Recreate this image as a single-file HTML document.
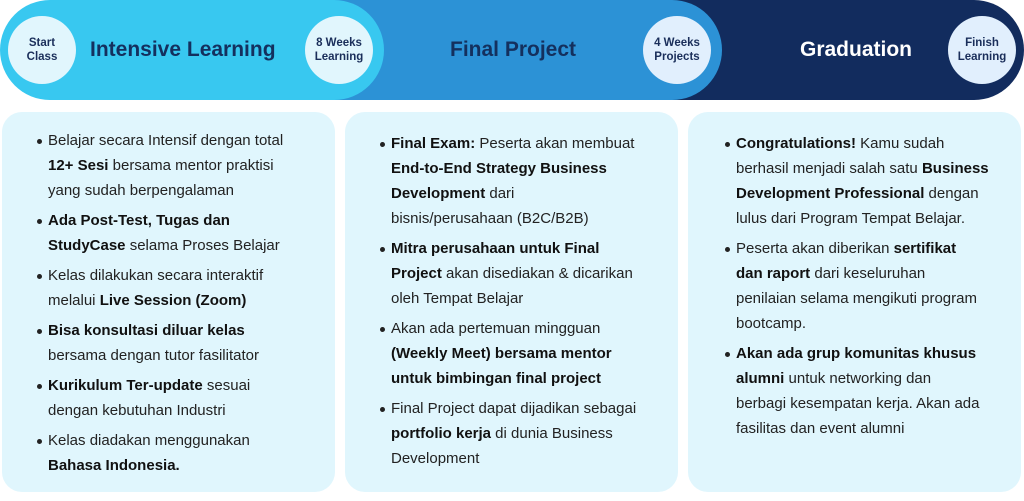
<!DOCTYPE html>
<html><head><meta charset="utf-8"><style>
*{margin:0;padding:0;box-sizing:border-box}
body{width:1024px;height:501px;background:#fff;position:relative;overflow:hidden;font-family:"Liberation Sans",sans-serif}
.seg{position:absolute;top:0;height:100px;border-radius:0 50px 50px 0}
.c{position:absolute;top:16px;width:68px;height:68px;border-radius:50%;display:flex;align-items:center;justify-content:center;text-align:center;font-size:11.5px;font-weight:bold;color:#1a2e5a;line-height:14px}
.t{position:absolute;top:0;height:100px;line-height:100px;font-size:21px;font-weight:bold;color:#14305e;white-space:nowrap}
.card{position:absolute;top:112px;height:380px;background:#e0f6fd;border-radius:20px}
ul{position:absolute;list-style:none;font-size:15px;line-height:25px;color:#222;white-space:nowrap}
li{position:relative;margin-bottom:5px}
li:before{content:"";position:absolute;left:-11px;top:11px;width:5px;height:5px;border-radius:50%;background:#222}
b{color:#111}
</style></head><body>
<div class="seg" style="left:660px;width:364px;background:#122c5e"></div>
<div class="seg" style="left:320px;width:402px;background:#2c92d6"></div>
<div class="seg" style="left:0;width:384px;background:#38c8f0;border-radius:50px"></div>
<div class="c" style="left:8px;background:#e1f6fd">Start<br>Class</div>
<div class="t" style="left:90px">Intensive Learning</div>
<div class="c" style="left:305px;background:#e1f6fd">8 Weeks<br>Learning</div>
<div class="t" style="left:450px">Final Project</div>
<div class="c" style="left:643px;background:#e1effd">4 Weeks<br>Projects</div>
<div class="t" style="left:800px;color:#fff">Graduation</div>
<div class="c" style="left:948px;background:#e1effd">Finish<br>Learning</div>

<div class="card" style="left:2px;width:333px"></div>
<div class="card" style="left:345px;width:333px"></div>
<div class="card" style="left:688px;width:333px"></div>

<ul style="left:48px;top:128px">
<li>Belajar secara Intensif dengan total<br><b>12+ Sesi</b> bersama mentor praktisi<br>yang sudah berpengalaman</li>
<li><b>Ada Post-Test, Tugas dan<br>StudyCase</b> selama Proses Belajar</li>
<li>Kelas dilakukan secara interaktif<br>melalui <b>Live Session (Zoom)</b></li>
<li><b>Bisa konsultasi diluar kelas</b><br>bersama dengan tutor fasilitator</li>
<li><b>Kurikulum Ter-update</b> sesuai<br>dengan kebutuhan Industri</li>
<li>Kelas diadakan menggunakan<br><b>Bahasa Indonesia.</b></li>
</ul>
<ul style="left:391px;top:131px">
<li><b>Final Exam:</b> Peserta akan membuat<br><b>End-to-End Strategy Business<br>Development</b> dari<br>bisnis/perusahaan (B2C/B2B)</li>
<li><b>Mitra perusahaan untuk Final<br>Project</b> akan disediakan &amp; dicarikan<br>oleh Tempat Belajar</li>
<li>Akan ada pertemuan mingguan<br><b>(Weekly Meet) bersama mentor<br>untuk bimbingan final project</b></li>
<li>Final Project dapat dijadikan sebagai<br><b>portfolio kerja</b> di dunia Business<br>Development</li>
</ul>
<ul style="left:736px;top:131px">
<li><b>Congratulations!</b> Kamu sudah<br>berhasil menjadi salah satu <b>Business<br>Development Professional</b> dengan<br>lulus dari Program Tempat Belajar.</li>
<li>Peserta akan diberikan <b>sertifikat<br>dan raport</b> dari keseluruhan<br>penilaian selama mengikuti program<br>bootcamp.</li>
<li><b>Akan ada grup komunitas khusus<br>alumni</b> untuk networking dan<br>berbagi kesempatan kerja. Akan ada<br>fasilitas dan event alumni</li>
</ul>
</body></html>
